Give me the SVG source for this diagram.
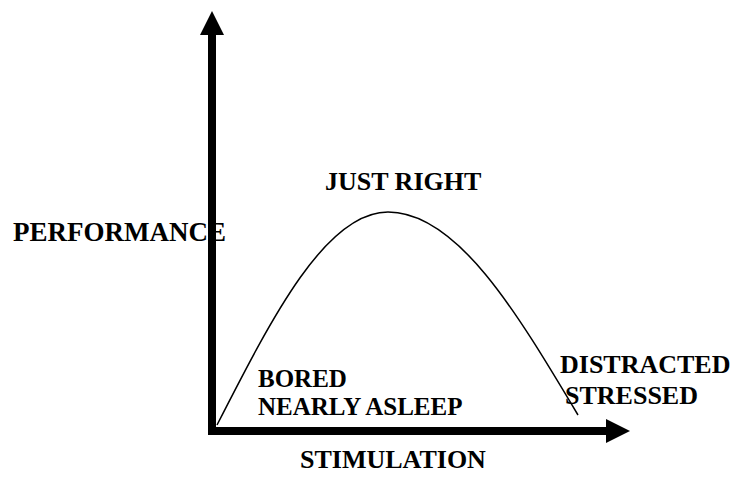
<svg xmlns="http://www.w3.org/2000/svg" width="735" height="483" viewBox="0 0 735 483">
<style>
.t{font-family:"Liberation Serif","Times New Roman","DejaVu Serif",serif;font-weight:bold;font-size:26px;fill:#000}
.s{font-size:25px}
.axis{stroke:#000;stroke-width:8;fill:none}
.curve{stroke:#000;stroke-width:1.5;fill:none}
</style>
<rect width="735" height="483" fill="#fff"/>
<g id="labels">
<text id="performance" class="t" x="13" y="241" style="font-size:27px">PERFORMANCE</text>
<text id="just-right" class="t" x="325" y="190">JUST RIGHT</text>
<text id="bored" class="t s" x="258" y="387">BORED</text>
<text id="nearly-asleep" class="t s" x="258" y="415">NEARLY ASLEEP</text>
<text id="distracted" class="t" x="560" y="373">DISTRACTED</text>
<text id="stressed" class="t" x="565" y="404">STRESSED</text>
<text id="stimulation" class="t" x="300" y="468">STIMULATION</text>
</g>
<g id="connectors">
<path class="curve" d="M217,425 C272.8,315.8 326.1,212 388,212 C456.8,212 516,311 578,415"/>
<path id="y-axis" class="axis" d="M212,435 V33"/>
<polygon points="212,11 224,35 200,35" fill="#000"/>
<path id="x-axis" class="axis" d="M208,431 H608"/>
<polygon points="630,431 606,419 606,443" fill="#000"/>
</g>
</svg>
